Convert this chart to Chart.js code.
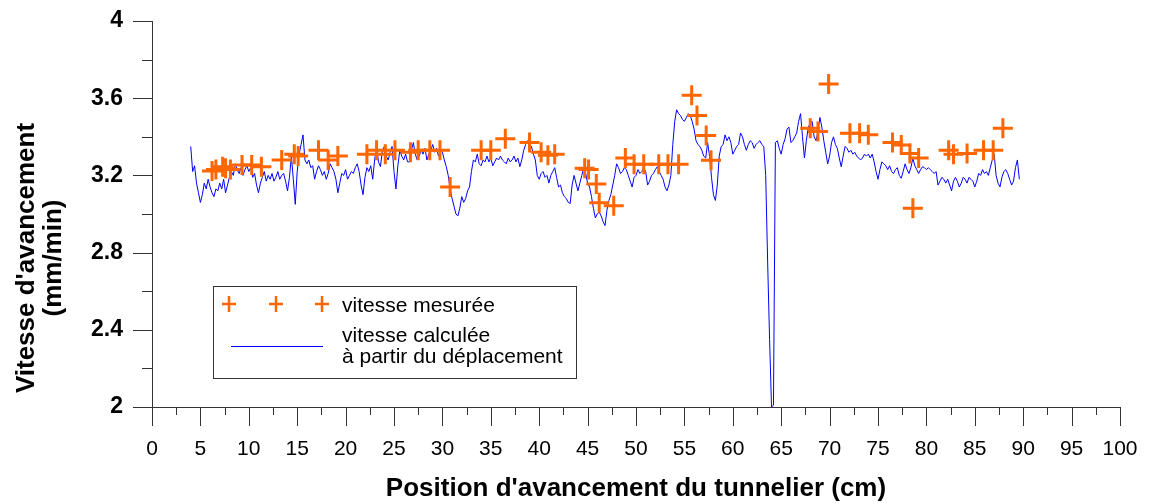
<!DOCTYPE html>
<html>
<head>
<meta charset="utf-8">
<script src="https://cdn.jsdelivr.net/npm/chart.js@4.4.1/dist/chart.umd.min.js"></script>
<style>
html, body { margin: 0; padding: 0; background: #fff; }
</style>
</head>
<body>
<canvas id="chart" width="1151" height="504"></canvas>
<script>
/** Données */

// vitesse mesurée (croix)
const mesureX = [6.2, 6.6, 7.3, 7.6, 8.1, 9.3, 10.3, 11.3, 13.4, 14.7, 15.1, 17.2, 18.2, 19.2,
    22.2, 23.2, 24.1, 25.1, 26.7, 27.5, 28.7, 29.75, 30.8, 34.0, 35.0, 36.5, 39.0, 40.2, 40.9,
    41.6, 44.7, 45.1, 45.9, 46.2, 47.7, 48.9, 49.8, 50.8, 52.35, 53.3, 54.4, 55.75, 56.3, 57.25,
    57.75, 68.0, 68.8, 69.9, 72.1, 73.1, 74.0, 76.5, 77.4, 78.3, 79.2, 78.6, 82.3, 82.8, 84.2,
    85.9, 86.9, 87.9];
const mesureY = [3.223, 3.23, 3.245, 3.237, 3.23, 3.254, 3.254, 3.245, 3.28, 3.31, 3.30, 3.33, 3.28, 3.30,
    3.31, 3.33, 3.31, 3.33, 3.32, 3.33, 3.33, 3.33, 3.14, 3.33, 3.33, 3.39, 3.37, 3.32, 3.305,
    3.31, 3.237, 3.23, 3.155, 3.058, 3.043, 3.29, 3.258, 3.258, 3.258, 3.258, 3.258, 3.615, 3.51, 3.407,
    3.278, 3.444, 3.427, 3.674, 3.418, 3.418, 3.41, 3.37, 3.357, 3.314, 3.29, 3.03, 3.33, 3.31, 3.314,
    3.33, 3.33, 3.444];

// vitesse calculée à partir du déplacement : un relevé tous les 0.2 cm depuis 4 cm
const calculStart = 4.0;
const calculStep = 0.2;
const calculY = [
    3.35, 3.22, 3.25, 3.16, 3.11, 3.06, 3.10, 3.16, 3.13, 3.18,
    3.14, 3.11, 3.09, 3.13, 3.12, 3.16, 3.13, 3.18, 3.11, 3.15,
    3.19, 3.22, 3.20, 3.26, 3.23, 3.21, 3.24, 3.20, 3.23, 3.25,
    3.22, 3.24, 3.19, 3.21, 3.15, 3.11, 3.16, 3.19, 3.22, 3.17,
    3.20, 3.18, 3.21, 3.17, 3.19, 3.22, 3.18, 3.20, 3.21, 3.17,
    3.12, 3.19, 3.30, 3.18, 3.05, 3.22, 3.31, 3.36, 3.41, 3.28,
    3.26, 3.28, 3.24, 3.25, 3.18, 3.22, 3.25, 3.23, 3.20, 3.22,
    3.18, 3.21, 3.26, 3.24, 3.22, 3.18, 3.11, 3.16, 3.21, 3.20,
    3.23, 3.18, 3.20, 3.22, 3.21, 3.24, 3.26, 3.22, 3.15, 3.10,
    3.19, 3.24, 3.22, 3.25, 3.18, 3.28, 3.35, 3.27, 3.245, 3.33,
    3.35, 3.30, 3.28, 3.32, 3.35, 3.22, 3.13, 3.25, 3.33, 3.30,
    3.28, 3.31, 3.27, 3.27, 3.33, 3.37, 3.31, 3.28, 3.30, 3.33,
    3.31, 3.34, 3.28, 3.31, 3.33, 3.36, 3.32, 3.34, 3.30, 3.33,
    3.32, 3.28, 3.245, 3.20, 3.13, 3.08, 3.04, 3.00, 2.99, 3.03,
    3.09, 3.06, 3.08, 3.12, 3.14, 3.22, 3.28, 3.27, 3.31, 3.26,
    3.25, 3.28, 3.27, 3.30, 3.27, 3.29, 3.25, 3.27, 3.29, 3.28,
    3.30, 3.28, 3.27, 3.26, 3.29, 3.27, 3.28, 3.30, 3.27, 3.29,
    3.245, 3.28, 3.33, 3.36, 3.38, 3.36, 3.35, 3.31, 3.28, 3.20,
    3.18, 3.21, 3.22, 3.19, 3.20, 3.16, 3.20, 3.22, 3.24, 3.19,
    3.14, 3.15, 3.11, 3.09, 3.08, 3.06, 3.055, 3.15, 3.20, 3.16,
    3.12, 3.16, 3.20, 3.24, 3.21, 3.16, 3.14, 3.09, 3.03, 2.98,
    3.00, 3.01, 2.99, 2.96, 2.94, 3.02, 3.07, 3.10, 3.15, 3.20,
    3.26, 3.24, 3.21, 3.22, 3.24, 3.23, 3.20, 3.17, 3.14, 3.19,
    3.20, 3.23, 3.21, 3.22, 3.24, 3.22, 3.15, 3.17, 3.20, 3.21,
    3.23, 3.245, 3.22, 3.20, 3.18, 3.14, 3.12, 3.15, 3.20, 3.36,
    3.48, 3.54, 3.52, 3.51, 3.49, 3.48, 3.50, 3.52, 3.51, 3.48,
    3.44, 3.38, 3.36, 3.35, 3.33, 3.30, 3.29, 3.37, 3.30, 3.19,
    3.10, 3.07, 3.15, 3.30, 3.35, 3.36, 3.41, 3.38, 3.40, 3.37,
    3.31, 3.33, 3.35, 3.36, 3.42, 3.40, 3.36, 3.33, 3.36, 3.38,
    3.37, 3.34, 3.36, 3.37, 3.38, 3.36, 3.35, 3.20, 2.75, 2.35,
    2.00, 2.01, 3.37, 3.38, 3.34, 3.31, 3.36, 3.39, 3.44, 3.45,
    3.37, 3.38, 3.40, 3.42, 3.48, 3.52, 3.40, 3.29, 3.38, 3.45,
    3.47, 3.48, 3.40, 3.38, 3.43, 3.50, 3.45, 3.38, 3.32, 3.26,
    3.30, 3.37, 3.40, 3.36, 3.34, 3.29, 3.245, 3.30, 3.35, 3.34,
    3.32, 3.33, 3.31, 3.32, 3.30, 3.29, 3.28, 3.29, 3.31, 3.30,
    3.31, 3.29, 3.31, 3.27, 3.22, 3.18, 3.23, 3.27, 3.26, 3.25,
    3.23, 3.25, 3.22, 3.21, 3.23, 3.24, 3.20, 3.185, 3.22, 3.26,
    3.23, 3.21, 3.24, 3.29, 3.25, 3.23, 3.21, 3.23, 3.245, 3.24,
    3.23, 3.24, 3.23, 3.22, 3.21, 3.22, 3.15, 3.17, 3.19, 3.18,
    3.16, 3.18, 3.15, 3.12, 3.17, 3.19, 3.17, 3.14, 3.16, 3.19,
    3.18, 3.16, 3.19, 3.18, 3.17, 3.14, 3.17, 3.21, 3.20, 3.23,
    3.21, 3.22, 3.20, 3.24, 3.28, 3.31, 3.20, 3.16, 3.14, 3.19,
    3.22, 3.23, 3.21, 3.18, 3.15, 3.17, 3.24, 3.28, 3.18
];

const yTicks = [2, 2.4, 2.8, 3.2, 3.6, 4];

const orange = '#FF6600';
const blue = '#0000FF';
const axisColor = '#333333';
const fontFamily = "'Liberation Sans', Arial, sans-serif";

const mesurePoints = mesureX.map((x, i) => ({ x: x, y: mesureY[i] }));
const calculPoints = calculY.map((y, i) => ({ x: +(calculStart + i * calculStep).toFixed(1), y: y }));

/** petites graduations des axes */
const axisTicks = {
    id: 'axisTicks',
    afterDraw(chart) {
        const { ctx, chartArea } = chart;
        const x = chart.scales.x, y = chart.scales.y;
        ctx.save();
        ctx.strokeStyle = axisColor;
        ctx.lineWidth = 1;
        ctx.beginPath();
        for (let i = 0; i <= 40; i++) {
            const px = Math.round(x.getPixelForValue(i * 2.5)) + 0.5;
            const len = i % 2 === 0 ? 19 : 8;
            ctx.moveTo(px, chartArea.bottom);
            ctx.lineTo(px, chartArea.bottom + len);
        }
        for (let i = 0; i <= 10; i++) {
            const py = Math.round(y.getPixelForValue(2 + i * 0.2)) + 0.5;
            const len = i % 2 === 0 ? 19 : 10;
            ctx.moveTo(chartArea.left, py);
            ctx.lineTo(chartArea.left - len, py);
        }
        ctx.stroke();

        // titre de l'axe Y (deux lignes)
        ctx.fillStyle = '#000';
        ctx.font = 'bold 26px ' + fontFamily;
        ctx.textAlign = 'center';
        ctx.textBaseline = 'middle';
        ctx.translate(0, 258);
        ctx.rotate(-Math.PI / 2);
        ctx.fillText("Vitesse d'avancement", 0, 27);
        ctx.fillText('(mm/min)', 0, 54);
        ctx.restore();
    }
};

/** légende encadrée */
const boxLegend = {
    id: 'boxLegend',
    afterDraw(chart) {
        const ctx = chart.ctx;
        ctx.save();
        ctx.fillStyle = '#fff';
        ctx.fillRect(213.5, 286.5, 363, 92);
        ctx.strokeStyle = axisColor;
        ctx.lineWidth = 1;
        ctx.strokeRect(213.5, 286.5, 363, 92);

        ctx.strokeStyle = orange;
        ctx.lineWidth = 2.5;
        ctx.beginPath();
        [229, 276, 322].forEach(cx => {
            ctx.moveTo(cx - 7, 304);
            ctx.lineTo(cx + 7, 304);
            ctx.moveTo(cx, 296);
            ctx.lineTo(cx, 312);
        });
        ctx.stroke();

        ctx.strokeStyle = blue;
        ctx.lineWidth = 1;
        ctx.beginPath();
        ctx.moveTo(231, 346.5);
        ctx.lineTo(323, 346.5);
        ctx.stroke();

        ctx.fillStyle = '#000';
        ctx.font = '21px ' + fontFamily;
        ctx.textAlign = 'left';
        ctx.textBaseline = 'middle';
        ctx.fillText('vitesse mesurée', 342, 306);
        ctx.fillText('vitesse calculée', 342, 336);
        ctx.fillText('à partir du déplacement', 342, 357);
        ctx.restore();
    }
};

const chart = new Chart(document.getElementById('chart'), {
    type: 'scatter',
    data: {
        datasets: [
            {
                label: 'vitesse calculée à partir du déplacement',
                data: calculPoints,
                showLine: true,
                borderColor: blue,
                borderWidth: 1,
                pointRadius: 0,
                tension: 0,
                order: 2
            },
            {
                label: 'vitesse mesurée',
                data: mesurePoints,
                pointStyle: 'cross',
                pointRadius: 10,
                pointBorderWidth: 3,
                borderColor: orange,
                backgroundColor: orange,
                showLine: false,
                order: 1
            }
        ]
    },
    options: {
        responsive: false,
        animation: false,
        events: [],
        layout: { padding: 0 },
        plugins: {
            legend: { display: false },
            tooltip: { enabled: false }
        },
        scales: {
            x: {
                type: 'linear',
                min: 0,
                max: 100,
                afterFit: s => {
                    s.height = 97;
                    s.paddingLeft = 0;
                    s.paddingRight = 31;
                },
                grid: { display: false, drawTicks: false },
                border: { display: true, color: axisColor, width: 1 },
                ticks: {
                    stepSize: 5,
                    autoSkip: false,
                    maxRotation: 0,
                    padding: 30,
                    color: '#000',
                    font: { family: fontFamily, size: 21 }
                },
                title: {
                    display: true,
                    text: "Position d'avancement du tunnelier (cm)",
                    color: '#000',
                    font: { family: fontFamily, size: 26, weight: 'bold' },
                    padding: { top: 0, bottom: 0 }
                }
            },
            y: {
                type: 'linear',
                min: 2,
                max: 4,
                afterFit: s => {
                    s.width = 152;
                    s.paddingTop = 21;
                    s.paddingBottom = 0;
                },
                afterBuildTicks: s => { s.ticks = yTicks.map(v => ({ value: v })); },
                grid: { display: false, drawTicks: false },
                border: { display: true, color: axisColor, width: 1 },
                ticks: {
                    padding: 29,
                    color: '#000',
                    font: { family: fontFamily, size: 23, weight: 'bold' },
                    callback: v => String(+v.toFixed(1))
                }
            }
        }
    },
    plugins: [axisTicks, boxLegend]
});
</script>
</body>
</html>
